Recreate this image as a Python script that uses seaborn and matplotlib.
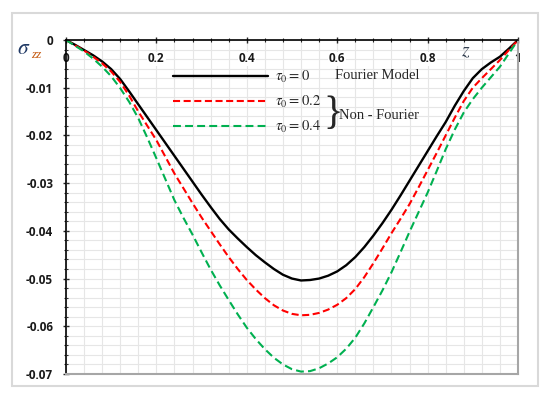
import matplotlib

matplotlib.use("Agg")

import matplotlib.pyplot as plt
import matplotlib.ticker as mticker
from matplotlib.patches import Rectangle
import seaborn as sns

# values (z step 0.02)
z = [round(0.02 * i, 2) for i in range(51)]
sigma_tau0 = [0, -0.0010, -0.0021, -0.0032, -0.0045, -0.0061, -0.0082, -0.0108, -0.0135,
              -0.0162, -0.0189, -0.0216, -0.0243, -0.0270, -0.0297, -0.0324, -0.0350,
              -0.0375, -0.0397, -0.0416, -0.0434, -0.0451, -0.0466, -0.0480, -0.0492,
              -0.0500, -0.0504, -0.0503, -0.0500, -0.0494, -0.0485, -0.0472, -0.0455,
              -0.0434, -0.0410, -0.0384, -0.0356, -0.0326, -0.0295, -0.0264, -0.0233,
              -0.0202, -0.0172, -0.0138, -0.0107, -0.0080, -0.0061, -0.0047, -0.0035,
              -0.0018, 0]
sigma_tau02 = [0, -0.0011, -0.0022, -0.0035, -0.0049, -0.0066, -0.0088, -0.0117, -0.0150,
               -0.0180, -0.0210, -0.0245, -0.0280, -0.0311, -0.0342, -0.0372, -0.0400,
               -0.0428, -0.0455, -0.0480, -0.0503, -0.0523, -0.0541, -0.0556, -0.0567,
               -0.0574, -0.0577, -0.0576, -0.0572, -0.0565, -0.0555, -0.0541, -0.0522,
               -0.0497, -0.0468, -0.0437, -0.0405, -0.0375, -0.0344, -0.0309, -0.0273,
               -0.0237, -0.0200, -0.0163, -0.0128, -0.0100, -0.0080, -0.0061, -0.0042,
               -0.0021, 0]
sigma_tau04 = [0, -0.0012, -0.0024, -0.0039, -0.0056, -0.0076, -0.0101, -0.0130, -0.0164,
               -0.0205, -0.0248, -0.0292, -0.0336, -0.0373, -0.0408, -0.0445, -0.0481,
               -0.0514, -0.0545, -0.0575, -0.0603, -0.0627, -0.0648, -0.0666, -0.0680,
               -0.0690, -0.0695, -0.0694, -0.0688, -0.0678, -0.0665, -0.0647, -0.0624,
               -0.0594, -0.0560, -0.0525, -0.0487, -0.0445, -0.0402, -0.0361, -0.0320,
               -0.0275, -0.0229, -0.0188, -0.0152, -0.0124, -0.0100, -0.0078, -0.0056,
               -0.0028, 0]
labels = [r"$\tau_0 = 0$", r"$\tau_0 =0.2$", r"$\tau_0 =0.4$"]

x_ticks = [0, 0.2, 0.4, 0.6, 0.8, 1.0]
x_tick_labels = ["0", "0.2", "0.4", "0.6", "0.8", "1"]
y_ticks = [0, -0.01, -0.02, -0.03, -0.04, -0.05, -0.06, -0.07]
y_tick_labels = ["0", "-0.01", "-0.02", "-0.03", "-0.04", "-0.05", "-0.06", "-0.07"]

sns.set_style("white")
plt.rcParams["mathtext.fontset"] = "stix"
plt.rcParams["font.family"] = ["Open Sans", "DejaVu Sans"]

fig = plt.figure(figsize=(5.5, 3.99), dpi=100)
fig.patches.append(Rectangle((0.022, 0.033), 0.956, 0.935, transform=fig.transFigure,
                             fill=False, edgecolor="#d9d9d9", linewidth=1.5))
ax = fig.add_axes([0.12, 0.0627, 0.8218, 0.837])

sns.lineplot(x=z, y=sigma_tau0, ax=ax, color="black", linewidth=1.7, label=labels[0])
sns.lineplot(x=z, y=sigma_tau02, ax=ax, color="#ff0000", linewidth=1.5,
             linestyle=(0, (3.4, 1.7)), label=labels[1])
sns.lineplot(x=z, y=sigma_tau04, ax=ax, color="#00b050", linewidth=1.5,
             linestyle=(0, (3.8, 2.0)), label=labels[2])

ax.set_xlim(0, 1)
ax.set_ylim(-0.07, 0)
ax.set_xticks(x_ticks)
ax.set_xticklabels(x_tick_labels)
ax.set_yticks(y_ticks)
ax.set_yticklabels(y_tick_labels)
ax.xaxis.set_minor_locator(mticker.MultipleLocator(0.04))
ax.yaxis.set_minor_locator(mticker.MultipleLocator(0.002))
ax.set_xlabel("")
ax.set_ylabel("")

ax.grid(True, which="both", color="#e6e6e6", linewidth=0.8)
ax.set_axisbelow(True)
# draw the y grid first so the x labels (inside the plot) sit on top of it
ax.yaxis.set_zorder(0.4)
ax.xaxis.set_zorder(0.6)

ax.xaxis.set_ticks_position("top")
ax.tick_params(axis="x", which="both", top=True, bottom=False, labeltop=True,
               labelbottom=False, direction="inout")
ax.tick_params(axis="x", which="major", length=4.5, width=1, pad=-20.5)
ax.tick_params(axis="x", which="minor", length=3, width=0.8)
ax.tick_params(axis="y", which="both", left=True, direction="inout")
ax.tick_params(axis="y", which="major", length=4.5, width=1, pad=7)
ax.tick_params(axis="y", which="minor", length=3, width=0.8)
for lab in ax.get_xticklabels() + ax.get_yticklabels():
    lab.set_fontsize(8.5)
    lab.set_fontweight("bold")
    lab.set_color("#1a1a1a")
for lab in ax.get_xticklabels():
    lab.set_bbox(dict(facecolor="white", edgecolor="none", pad=0.6))

for side in ["top", "left"]:
    ax.spines[side].set_color("black")
    ax.spines[side].set_linewidth(1.2)
for side in ["right", "bottom"]:
    ax.spines[side].set_color("#a6a6a6")
    ax.spines[side].set_linewidth(1.5)

leg = ax.legend(loc="upper left", bbox_to_anchor=(0.237, 0.913), frameon=False,
                borderpad=0, borderaxespad=0, handlelength=6.5, handletextpad=0.5,
                labelspacing=0.62, prop={"size": 10.5})

ax.text(0.595, 0.893, "Fourier Model", transform=ax.transAxes, ha="left", va="center",
        fontsize=10.5, family="Liberation Serif")
ax.text(0.569, 0.777, "}", transform=ax.transAxes, ha="left", va="center",
        fontsize=29, family="Liberation Serif", fontweight="light")
ax.text(0.604, 0.774, "Non - Fourier", transform=ax.transAxes, ha="left", va="center",
        fontsize=10.5, family="Liberation Serif")

fig.text(0.031, 0.878, r"$\sigma$", fontsize=15.5, color="#1f3864", ha="left", va="center")
fig.text(0.056, 0.862, "zz", fontsize=9.5, color="#c55a11", style="italic",
         family="Liberation Serif", ha="left", va="center")
ax.text(0.885, 0.965, r"$z$", transform=ax.transAxes, fontsize=14, color="#333f50",
        ha="center", va="center")

fig.savefig("out.png", dpi=100)
